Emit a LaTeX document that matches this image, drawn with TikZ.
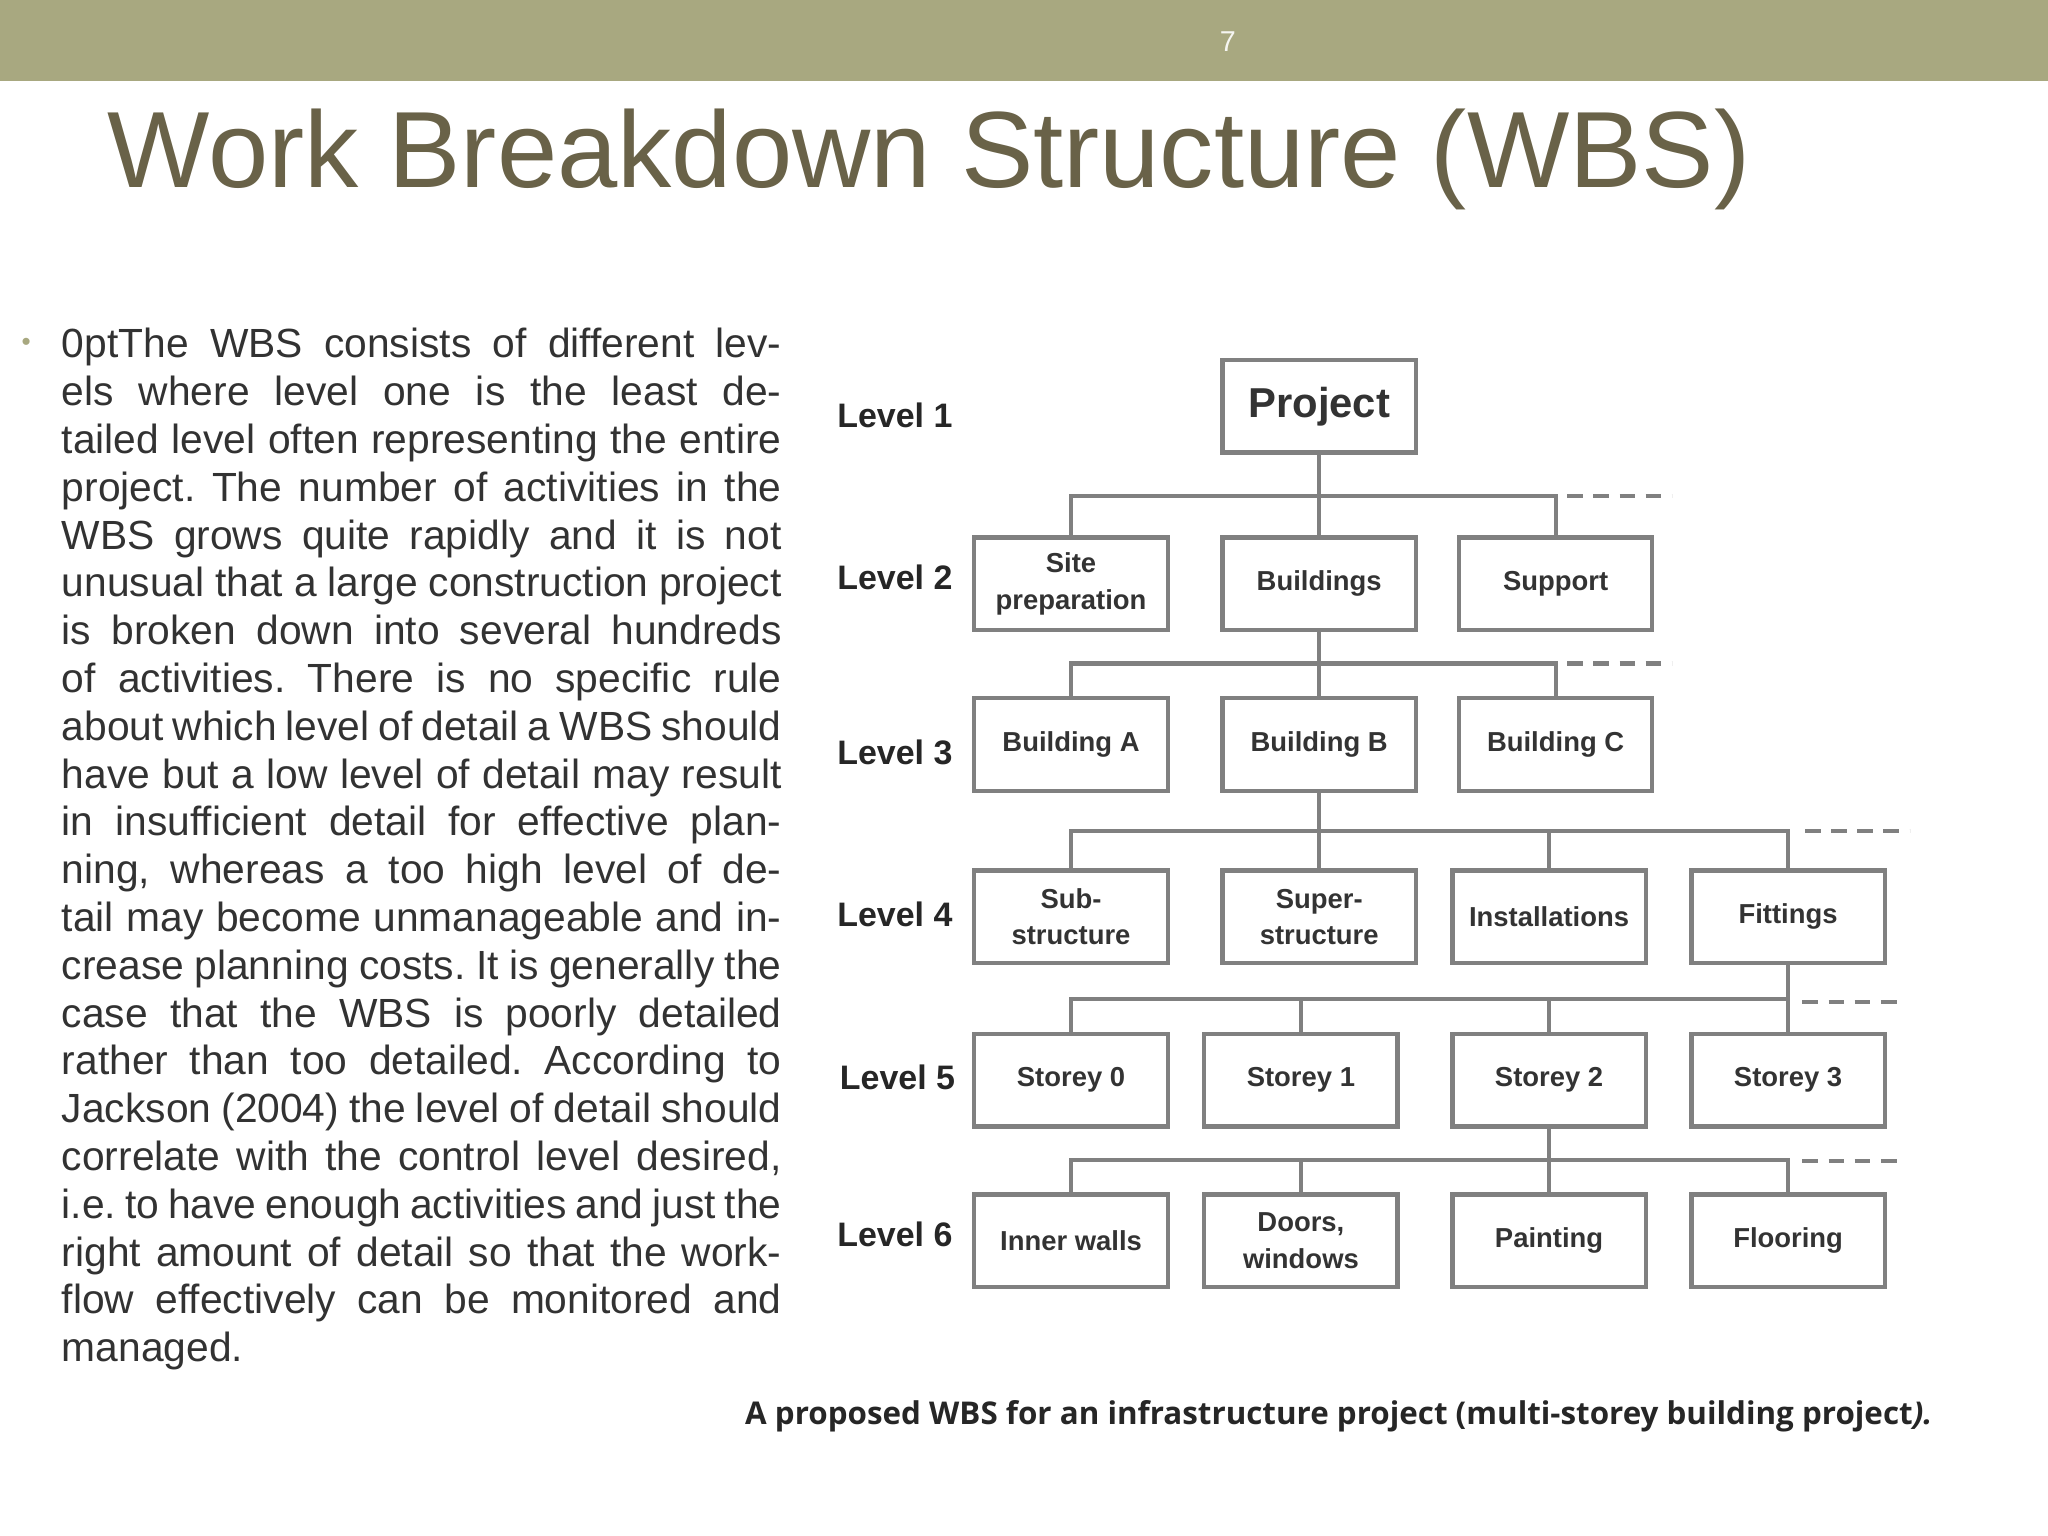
\documentclass[tikz,border=0pt]{standalone}
\usepackage{fontspec}
\setmainfont{Liberation Sans}
\newfontfamily\capfont{Open Sans}
\definecolor{band}{RGB}{168,168,128}
\definecolor{titlec}{RGB}{105,98,72}
\definecolor{bodyc}{RGB}{50,50,50}
\definecolor{boxc}{RGB}{128,128,128}
\begin{document}
\begin{tikzpicture}[x=0.5pt,y=-0.5pt,
  wbs/.style={draw=boxc,line width=1.6pt,minimum width=74pt,minimum height=35.5pt,inner sep=1pt,align=center,font=\bfseries\fontsize{10.5}{14}\selectfont,text=black!80},
  lvl/.style={anchor=west,font=\bfseries\fontsize{13}{15}\selectfont,text=black!85},
  conn/.style={draw=boxc,line width=1.6pt},
  dsh/.style={draw=boxc,line width=1.6pt,dash pattern=on 6pt off 4pt}]
\useasboundingbox (0,0) rectangle (1568,1176);
\fill[band] (0,0) rectangle (1568,62);
\node[text=white!90!band,font=\fontsize{11}{13}\selectfont] (pg) at (940,32) {7};
\node[anchor=west,text=titlec,font=\fontsize{41.5}{46}\selectfont,inner sep=0] (title) at (82,122) {Work Breakdown Structure (WBS)};
\node[text=band,font=\fontsize{10}{12}\selectfont] (bul) at (20,264) {\textbullet};
\node[anchor=north west,inner sep=0,text width=275.5pt,align=justify,text=bodyc,font=\fontsize{15.6}{18.3}\selectfont\frenchspacing\lefthyphenmin=64\righthyphenmin=64] (body) at (47,251) {The WBS consists of different levels where level one is the least detailed level often representing the entire project. The number of activities in the WBS grows quite rapidly and it is not unusual that a large construction project is broken down into several hundreds of activities. There is no specific rule about which level of detail a WBS should have but a low level of detail may result in insufficient detail for effective planning, whereas a too high level of detail may become unmanageable and increase planning costs. It is generally the case that the WBS is poorly detailed rather than too detailed. According to Jackson (2004) the level of detail should correlate with the control level desired, i.e. to have enough activities and just the right amount of detail so that the work-flow effectively can be monitored and managed.};
% level labels
\node[lvl] (l1) at (634,318) {Level 1};
\node[lvl] (l2) at (634,442) {Level 2};
\node[lvl] (l3) at (634,576) {Level 3};
\node[lvl] (l4) at (634,700) {Level 4};
\node[lvl] (l5) at (636,825) {Level 5};
\node[lvl] (l6) at (634,945) {Level 6};
% boxes
\node[wbs,font=\bfseries\fontsize{16}{18}\selectfont] (proj) at (1010,311) {Project};
\node[wbs] (a1) at (820,447) {Site\\preparation};
\node[wbs] (a2) at (1010,447) {Buildings};
\node[wbs] (a3) at (1191,447) {Support};
\node[wbs] (b1) at (820,570) {Building A};
\node[wbs] (b2) at (1010,570) {Building B};
\node[wbs] (b3) at (1191,570) {Building C};
\node[wbs] (c1) at (820,702) {Sub-\\structure};
\node[wbs] (c2) at (1010,702) {Super-\\structure};
\node[wbs] (c3) at (1186,702) {Installations};
\node[wbs] (c4) at (1369,702) {Fittings};
\node[wbs] (d1) at (820,827) {Storey 0};
\node[wbs] (d2) at (996,827) {Storey 1};
\node[wbs] (d3) at (1186,827) {Storey 2};
\node[wbs] (d4) at (1369,827) {Storey 3};
\node[wbs] (e1) at (820,950) {Inner walls};
\node[wbs] (e2) at (996,950) {Doors,\\windows};
\node[wbs] (e3) at (1186,950) {Painting};
\node[wbs] (e4) at (1369,950) {Flooring};
% connectors
\draw[conn] (proj.south) -- (a2.north);
\draw[conn] (a1.north) -- (a1.north |- 0,380) -- (a3.north |- 0,380) -- (a3.north);
\coordinate (k1a) at (1200,380); \coordinate (k1b) at (1280,380);
\draw[dsh] (k1a) -- (k1b);
\draw[conn] (a2.south) -- (b2.north);
\draw[conn] (b1.north) -- (b1.north |- 0,508) -- (b3.north |- 0,508) -- (b3.north);
\coordinate (k2a) at (1200,508); \coordinate (k2b) at (1280,508);
\draw[dsh] (k2a) -- (k2b);
\draw[conn] (b2.south) -- (b2.south |- 0,636);
\draw[conn] (c1.north) -- (c1.north |- 0,636) -- (c4.north |- 0,636) -- (c4.north);
\draw[conn] (c2.north) -- (c2.north |- 0,636);
\draw[conn] (c3.north) -- (c3.north |- 0,636);
\coordinate (k3a) at (1382,636); \coordinate (k3b) at (1462,636);
\draw[dsh] (k3a) -- (k3b);
\draw[conn] (c4.south) -- (d4.north);
\draw[conn] (d1.north) -- (d1.north |- 0,765) -- (d4.north |- 0,765);
\draw[conn] (d2.north) -- (d2.north |- 0,765);
\draw[conn] (d3.north) -- (d3.north |- 0,765);
\coordinate (k4a) at (1380,767); \coordinate (k4b) at (1458,767);
\draw[dsh] (k4a) -- (k4b);
\draw[conn] (d3.south) -- (e3.north);
\draw[conn] (e1.north) -- (e1.north |- 0,888) -- (e4.north |- 0,888) -- (e4.north);
\draw[conn] (e2.north) -- (e2.north |- 0,888);
\coordinate (k5a) at (1380,889); \coordinate (k5b) at (1458,889);
\draw[dsh] (k5a) -- (k5b);
\node[font=\capfont\bfseries\fontsize{12}{14}\selectfont,text=black!85] (cap) at (1025,1084) {A proposed WBS for an infrastructure project (multi-storey building project\textit{).}};
\end{tikzpicture}
\end{document}
